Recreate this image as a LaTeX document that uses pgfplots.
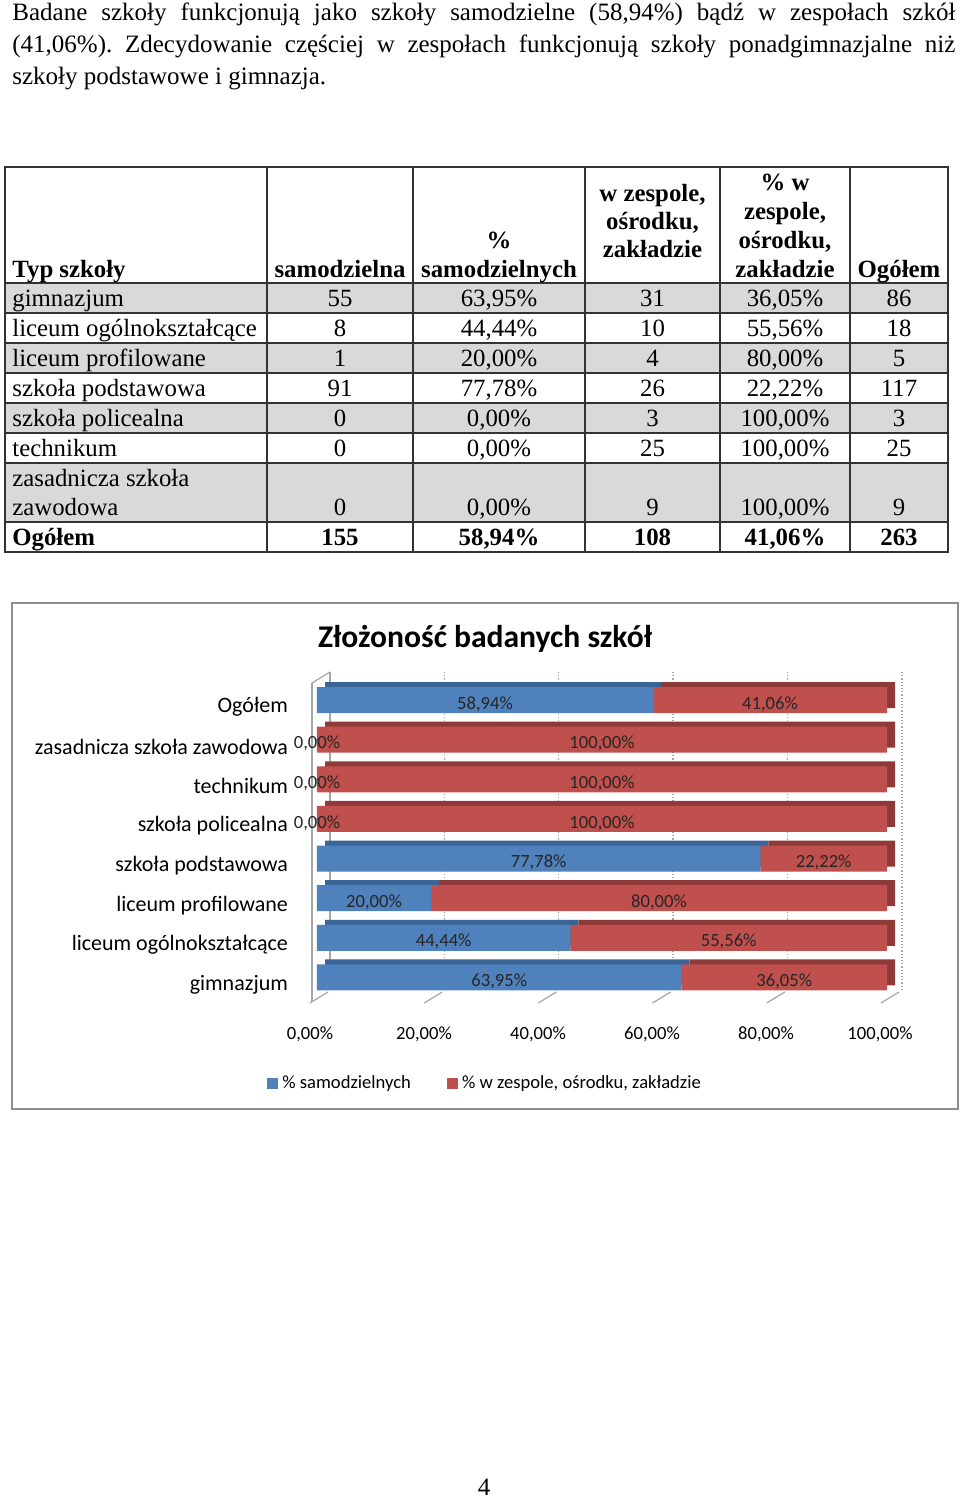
\documentclass[border=0pt]{standalone}
\usepackage{pgfplots}
\usepackage{pgfplotstable}
\pgfplotsset{compat=1.18}
\usepackage{fontspec}
\setmainfont{Liberation Serif}
\newfontfamily\carlito{Carlito}
\definecolor{xblue}{HTML}{4F81BD}
\definecolor{xred}{HTML}{C0504D}
\definecolor{xbluedk}{HTML}{3A6597}
\definecolor{xreddk}{HTML}{8E3A38}
\definecolor{tgray}{HTML}{D9D9D9}
\definecolor{tline}{HTML}{333333}
\definecolor{wall}{HTML}{A6A6A6}

\pgfplotstableread{
idx sam zes
0 63.95 36.05
1 44.44 55.56
2 20.00 80.00
3 77.78 22.22
4 0.00 100.00
5 0.00 100.00
6 0.00 100.00
7 58.94 41.06
}\chartdata

\newcommand{\tc}[3]{\node[anchor=base, inner sep=0] at (#1,#2) {#3};}
\newcommand{\tl}[3]{\node[anchor=base west, inner sep=0] at (#1,#2) {#3};}
\frenchspacing

\begin{document}
\begin{tikzpicture}
\useasboundingbox[fill=white] (0,0) rectangle (480pt,750pt);
\begin{scope}[x=0.5pt,y=0.5pt]
% paragraph
\node[anchor=base west, inner sep=0, text width=471.5pt, align=justify,
      font=\fontsize{12.5}{16}\selectfont] at (12,1479)
 {\frenchspacing Badane szkoły funkcjonują jako szkoły samodzielne (58,94\%) bądź w zespołach szkół\linebreak
  (41,06\%). Zdecydowanie częściej w zespołach funkcjonują szkoły ponadgimnazjalne niż\linebreak
  szkoły podstawowe i gimnazja.};

% table backgrounds
\fill[tgray] (5,1217) rectangle (948,1187);
\fill[tgray] (5,1157) rectangle (948,1127);
\fill[tgray] (5,1097) rectangle (948,1067);
\fill[tgray] (5,1037) rectangle (948,978);
% table lines
\begin{scope}[draw=tline, line width=0.6pt]
\draw (5,1333) rectangle (948,948);
\foreach \xx in {267,413,585,720,850} \draw (\xx,1333) -- (\xx,948);
\foreach \yy in {1187,1157,1127,1097,1067,1037,978} \draw (5,\yy) -- (948,\yy);
\draw[line width=1.3pt] (5,1217) -- (948,1217);
\end{scope}
\begin{scope}[every node/.style={font=\fontsize{12.4}{14}\selectfont}]
% header
\tl{12}{1222}{\textbf{Typ szkoły}}
\tc{340}{1222}{\textbf{samodzielna}}
\tc{499}{1251}{\textbf{\%}}
\tc{499}{1222}{\textbf{samodzielnych}}
\tc{652.5}{1298}{\textbf{w zespole,}}
\tc{652.5}{1270}{\textbf{ośrodku,}}
\tc{652.5}{1242}{\textbf{zakładzie}}
\tc{785}{1309}{\textbf{\% w}}
\tc{785}{1280}{\textbf{zespole,}}
\tc{785}{1251}{\textbf{ośrodku,}}
\tc{785}{1222}{\textbf{zakładzie}}
\tc{899}{1222}{\textbf{Ogółem}}
% rows
\tl{12}{1193}{gimnazjum}\tc{340}{1193}{55}\tc{499}{1193}{63,95\%}\tc{652.5}{1193}{31}\tc{785}{1193}{36,05\%}\tc{899}{1193}{86}
\tl{12}{1163}{liceum ogólnokształcące}\tc{340}{1163}{8}\tc{499}{1163}{44,44\%}\tc{652.5}{1163}{10}\tc{785}{1163}{55,56\%}\tc{899}{1163}{18}
\tl{12}{1133}{liceum profilowane}\tc{340}{1133}{1}\tc{499}{1133}{20,00\%}\tc{652.5}{1133}{4}\tc{785}{1133}{80,00\%}\tc{899}{1133}{5}
\tl{12}{1103}{szkoła podstawowa}\tc{340}{1103}{91}\tc{499}{1103}{77,78\%}\tc{652.5}{1103}{26}\tc{785}{1103}{22,22\%}\tc{899}{1103}{117}
\tl{12}{1073}{szkoła policealna}\tc{340}{1073}{0}\tc{499}{1073}{0,00\%}\tc{652.5}{1073}{3}\tc{785}{1073}{100,00\%}\tc{899}{1073}{3}
\tl{12}{1043}{technikum}\tc{340}{1043}{0}\tc{499}{1043}{0,00\%}\tc{652.5}{1043}{25}\tc{785}{1043}{100,00\%}\tc{899}{1043}{25}
\tl{12}{1013}{zasadnicza szkoła}
\tl{12}{984}{zawodowa}\tc{340}{984}{0}\tc{499}{984}{0,00\%}\tc{652.5}{984}{9}\tc{785}{984}{100,00\%}\tc{899}{984}{9}
\tl{12}{954}{\textbf{Ogółem}}\tc{340}{954}{\textbf{155}}\tc{499}{954}{\textbf{58,94\%}}\tc{652.5}{954}{\textbf{108}}\tc{785}{954}{\textbf{41,06\%}}\tc{899}{954}{\textbf{263}}
\end{scope}

% chart frame
\draw[wall!85!black, line width=1pt] (12,897) rectangle (958,391);
\node[font=\carlito\bfseries\fontsize{15.8}{19}\selectfont, inner sep=0] at (485,861) {Złożoność badanych szkół};
% 3D wall decorations
\begin{scope}[draw=wall, line width=0.6pt]
\draw (312,817) -- (312,498);
\draw (312,817) -- (330,828);
\draw (330,828) -- (330,510);
\foreach \gx in {444.3,558.6,672.9,787.2} \draw[densely dotted] (\gx,828) -- (\gx,510);
\draw[densely dotted] (902,828) -- (902,510);
\foreach \k in {0,...,5} \draw (310+114.2*\k,497) -- (328+114.2*\k,508);
\end{scope}
% page number
\node[anchor=base, inner sep=0, font=\fontsize{12.5}{14}\selectfont] at (484,4) {4};
\end{scope}

% shadow (depth) axis
\begin{axis}[
  at={(162.5pt,253.85pt)}, anchor=south west,
  scale only axis, width=285pt, height=158.55pt,
  xmin=0, xmax=100, ymin=-0.5, ymax=7.5,
  hide axis, clip=false,
  xbar stacked, bar width=13pt,
]
\addplot[fill=xbluedk, draw=none] table[x=sam, y=idx] {\chartdata};
\addplot[fill=xreddk, draw=none] table[x=zes, y=idx] {\chartdata};
\end{axis}

% front axis
\begin{axis}[
  at={(158.5pt,251.35pt)}, anchor=south west,
  scale only axis, width=285pt, height=158.55pt,
  xmin=0, xmax=100, ymin=-0.5, ymax=7.5,
  clip=false,
  axis line style={draw=none}, tick style={draw=none},
  major tick length=0pt,
  xbar stacked, bar width=13pt,
  xtick={0,20,40,60,80,100},
  xticklabels={{0,00\%},{20,00\%},{40,00\%},{60,00\%},{80,00\%},{100,00\%}},
  xticklabel style={font=\carlito\fontsize{9.3}{11}\selectfont, xshift=-3.5pt, yshift=-11pt},
  ytick={0,1,2,3,4,5,6,7},
  yticklabels={gimnazjum,liceum ogólnokształcące,liceum profilowane,szkoła podstawowa,szkoła policealna,technikum,zasadnicza szkoła zawodowa,Ogółem},
  yticklabel style={font=\carlito\fontsize{11}{13}\selectfont, xshift=-11pt, yshift=-3.5pt},
  legend columns=2,
  legend style={draw=none, fill=none, at={(0.2965,-0.272)}, anchor=center,
    font=\carlito\fontsize{9.3}{11}\selectfont,
    /tikz/every even column/.append style={column sep=16pt}},
]
\addplot[fill=xblue, draw=none,
  legend image code/.code={\fill[xblue] (0pt,-2.8pt) rectangle (5.6pt,2.8pt);}]
  table[x=sam, y=idx] {\chartdata};
\addlegendentry{\% samodzielnych}
\addplot[fill=xred, draw=none,
  legend image code/.code={\fill[xred] (0pt,-2.8pt) rectangle (5.6pt,2.8pt);}]
  table[x=zes, y=idx] {\chartdata};
\addlegendentry{\% w zespole, ośrodku, zakładzie}
\end{axis}

% data labels axis
\begin{axis}[
  at={(158.5pt,251.35pt)}, anchor=south west,
  scale only axis, width=285pt, height=158.55pt,
  xmin=0, xmax=100, ymin=-0.5, ymax=7.5,
  hide axis, clip=false,
  /pgf/number format/assume math mode=true,
  every node near coord/.append style={anchor=center, yshift=-2pt,
     font=\carlito\fontsize{9.3}{11}\selectfont, text=black!85},
  nodes near coords={\pgfmathprintnumber[fixed,fixed zerofill,precision=2,use comma,assume math mode=true]{\pgfplotspointmeta}\%},
]
\addplot[only marks, mark=*, mark size=0.01pt, mark options={draw=none,fill=none},
  point meta=\thisrow{sam}] table[x expr=\thisrow{sam}/2, y=idx] {\chartdata};
\addplot[only marks, mark=*, mark size=0.01pt, mark options={draw=none,fill=none},
  point meta=\thisrow{zes}] table[x expr=\thisrow{sam}+\thisrow{zes}/2, y=idx] {\chartdata};
\end{axis}
\end{tikzpicture}
\end{document}
